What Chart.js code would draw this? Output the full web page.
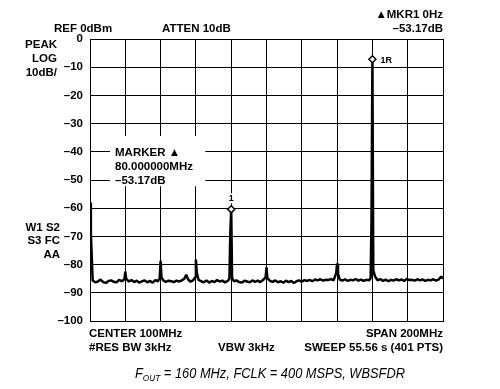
<!DOCTYPE html>
<html>
<head>
<meta charset="utf-8">
<script src="https://cdn.jsdelivr.net/npm/chart.js@4/dist/chart.umd.min.js"></script>
<style>
  html, body { margin: 0; padding: 0; background: #fff; }
  canvas { display: block; }
</style>
</head>
<body>
<canvas id="spec" width="500" height="389"></canvas>
<script>
// spectrum trace (MHz, dBm)
const freqMHz = [
  0, 0.5, 1.5, 3, 4.5, 6, 7.5, 9, 10.5, 12,
  13.5, 15, 16.5, 18, 19.5, 20, 20.5, 22, 23.5, 25,
  26.5, 28, 29.5, 31, 32.5, 34, 35.5, 37, 38.5, 39.5,
  40, 40.5, 41.5, 43, 44.5, 46, 47.5, 49, 50.5, 52,
  53.5, 54.5, 55.5, 57, 58.5, 59.5, 60, 60.5, 61.5, 63,
  64.5, 66, 67.5, 69, 70.5, 72, 73.5, 75, 76.5, 78,
  79, 79.5, 80, 80.5, 81.5, 83, 84.5, 86, 87.5, 89,
  90.5, 92, 93.5, 95, 96.5, 98, 99.5, 100, 100.5, 102,
  103.5, 105, 106.5, 108, 109.5, 111, 112.5, 114, 115.5, 117,
  118.5, 120, 121.5, 123, 124.5, 126, 127.5, 129, 130.5, 132,
  133.5, 135, 136.5, 138, 139.5, 140, 140.5, 141.5, 143, 144.5,
  146, 147.5, 149, 150.5, 152, 153.5, 155, 156.5, 158, 159,
  159.5, 160, 160.5, 161.5, 163, 164.5, 166, 167.5, 169, 170.5,
  172, 173.5, 175, 176.5, 178, 179.5, 181, 182.5, 184, 185.5,
  187, 188.5, 190, 191.5, 193, 194.5, 196, 197.5, 199, 200
];
const levelDb = [
  -58, -69, -85.6, -86.3, -86.0, -85.3, -86.2, -86.5, -85.8, -85.6,
  -86.1, -86.3, -85.4, -85.9, -85.2, -82.5, -85.0, -86.0, -85.5, -86.2,
  -85.7, -86.4, -85.9, -85.6, -86.3, -85.8, -86.4, -85.5, -85.9, -84.8,
  -78.7, -84.5, -85.6, -86.1, -85.7, -85.9, -86.2, -85.7, -86.0, -85.6,
  -84.9, -83.6, -85.2, -86.1, -85.5, -84.6, -78.2, -82.8, -85.4, -85.9,
  -86.3, -85.6, -86.4, -85.8, -86.2, -85.5, -86.0, -85.7, -86.3, -85.8,
  -85.0, -68.7, -60.4, -84.7, -85.9, -85.6, -86.2, -86.4, -85.7, -86.0,
  -86.3, -85.6, -86.1, -85.7, -86.2, -85.5, -84.5, -81.0, -84.8, -85.8,
  -86.1, -85.6, -86.3, -85.9, -86.4, -85.7, -86.2, -85.8, -86.5, -85.9,
  -85.6, -86.1, -85.5, -85.8, -85.4, -85.9, -85.3, -85.6, -85.2, -85.7,
  -85.4, -85.5, -85.1, -85.6, -83.0, -79.6, -83.2, -85.3, -85.7, -85.2,
  -85.8, -85.4, -85.6, -85.1, -85.7, -85.3, -85.8, -85.4, -85.6, -84.8,
  -64.0, -7.2, -82.0, -84.2, -85.6, -85.1, -85.8, -85.3, -85.9, -85.4,
  -85.7, -85.2, -85.6, -85.3, -85.8, -85.1, -85.5, -85.4, -85.7, -85.2,
  -85.6, -85.3, -85.8, -85.4, -85.6, -85.2, -85.7, -85.3, -84.2, -85.0
];

// markers on the trace
const markerFreqs = [80, 160];
const markerNames = ["1", "1R"];

const boldFont = 'bold 11.5px "Liberation Sans", Arial, sans-serif';

const annotate = {
  id: "annotate",
  beforeDatasetsDraw(chart) {
    const ctx = chart.ctx;
    const xs = chart.scales.x, ys = chart.scales.y;
    // white panel behind the marker readout
    const x0 = xs.getPixelForValue(11.3), x1 = xs.getPixelForValue(65.3);
    const y0 = ys.getPixelForValue(-34.4), y1 = ys.getPixelForValue(-52.2);
    ctx.save();
    ctx.fillStyle = "#fff";
    ctx.fillRect(x0, y0, x1 - x0, y1 - y0);
    ctx.fillStyle = "#000";
    ctx.font = boldFont;
    ctx.textAlign = "left";
    ctx.fillText("MARKER \u25B2", 115, 156);
    ctx.fillText("80.000000MHz", 115, 170);
    ctx.fillText("\u201353.17dB", 115, 184);
    ctx.restore();
  },
  afterDatasetsDraw(chart) {
    const ctx = chart.ctx;
    const xs = chart.scales.x, ys = chart.scales.y;
    ctx.save();
    markerFreqs.forEach((f, k) => {
      const i = freqMHz.indexOf(f);
      const px = xs.getPixelForValue(f);
      const py = ys.getPixelForValue(levelDb[i]);
      ctx.font = 'bold 9px "Liberation Sans", Arial, sans-serif';
      if (markerNames[k] === "1") {
        ctx.fillStyle = "#fff";
        ctx.fillRect(px - 4, py - 16, 8, 10);
        ctx.fillStyle = "#000";
        ctx.textAlign = "center";
        ctx.fillText(markerNames[k], px, py - 8);
      } else {
        ctx.fillStyle = "#000";
        ctx.textAlign = "left";
        ctx.fillText(markerNames[k], px + 8, py + 4);
      }
      ctx.beginPath();
      ctx.moveTo(px, py - 3.5);
      ctx.lineTo(px + 3.5, py);
      ctx.lineTo(px, py + 3.5);
      ctx.lineTo(px - 3.5, py);
      ctx.closePath();
      ctx.fillStyle = "#fff";
      ctx.fill();
      ctx.strokeStyle = "#000";
      ctx.lineWidth = 1.5;
      ctx.stroke();
    });
    ctx.restore();
  },
  afterDraw(chart) {
    const ctx = chart.ctx;
    const a = chart.chartArea;
    ctx.save();
    ctx.fillStyle = "#000";
    ctx.font = boldFont;
    ctx.textAlign = "left";
    ctx.fillText("REF 0dBm", 54, 32);
    ctx.fillText("ATTEN 10dB", 162, 32);
    ctx.fillText("CENTER 100MHz", a.left - 1, 337);
    ctx.fillText("#RES BW 3kHz", a.left - 1, 351);
    ctx.fillText("VBW 3kHz", 218, 351);
    ctx.textAlign = "right";
    ctx.fillText("\u25B2MKR1 0Hz", a.right, 18);
    ctx.fillText("\u201353.17dB", a.right, 32);
    ctx.fillText("SPAN 200MHz", a.right, 337);
    ctx.fillText("SWEEP 55.56 s (401 PTS)", a.right, 351);
    ctx.fillText("PEAK", 57, 47.5);
    ctx.fillText("LOG", 57, 61.5);
    ctx.fillText("10dB/", 57, 75.5);
    ctx.fillText("W1 S2", 60, 230.5);
    ctx.fillText("S3 FC", 60, 244);
    ctx.fillText("AA", 60, 258);

    // caption with subscript
    const big = 'italic 14px "Liberation Sans", Arial, sans-serif';
    const small = 'italic 9px "Liberation Sans", Arial, sans-serif';
    const rest = " = 160 MHz, FCLK = 400 MSPS, WBSFDR";
    ctx.font = big;
    const wF = ctx.measureText("F").width, wR = ctx.measureText(rest).width;
    ctx.font = small;
    const wS = ctx.measureText("OUT").width;
    const total = wF + wS + wR;
    const sx = 270 / total;
    ctx.translate(135, 378);
    ctx.scale(sx, 1);
    ctx.textAlign = "left";
    ctx.font = big;
    ctx.fillText("F", 0, 0);
    ctx.font = small;
    ctx.fillText("OUT", wF, 3);
    ctx.font = big;
    ctx.fillText(rest, wF + wS, 0);
    ctx.restore();
  }
};

new Chart(document.getElementById("spec"), {
  type: "line",
  data: {
    datasets: [{
      label: "Trace",
      data: freqMHz.map((f, i) => ({ x: f, y: levelDb[i] })),
      borderColor: "#000",
      borderWidth: 2.5,
      borderJoinStyle: "bevel",
      pointRadius: 0,
      tension: 0
    }]
  },
  options: {
    responsive: false,
    animation: false,
    layout: { padding: { left: 0, right: 57, top: 39, bottom: 68 } },
    plugins: { legend: { display: false }, tooltip: { enabled: false } },
    scales: {
      x: {
        type: "linear",
        min: 0,
        max: 200,
        ticks: { display: false, stepSize: 20 },
        grid: { color: "#000", lineWidth: 1, drawTicks: false },
        border: { color: "#000", width: 1 },
        afterFit(scale) { scale.height = 0; }
      },
      y: {
        min: -100,
        max: 0,
        ticks: {
          stepSize: 10,
          padding: 7,
          color: "#000",
          font: { family: '"Liberation Sans", Arial, sans-serif', size: 11.5, weight: "bold" },
          callback: v => v === 0 ? "0" : "\u2013" + Math.abs(v)
        },
        grid: { color: "#000", lineWidth: 1, drawTicks: false },
        border: { color: "#000", width: 1 },
        afterFit(scale) { scale.width = 90; }
      }
    }
  },
  plugins: [annotate]
});
</script>
</body>
</html>
